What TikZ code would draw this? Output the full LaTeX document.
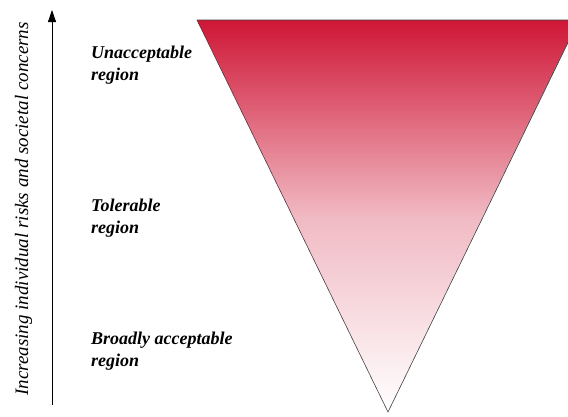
\documentclass[tikz,border=0pt]{standalone}
\usepackage{fontspec}
\setmainfont{Liberation Serif}
\usetikzlibrary{arrows.meta}

\tikzset{
  region/.style={anchor=north west, align=left, inner sep=0pt,
    font=\fontsize{18}{22}\selectfont\bfseries\itshape},
}
\definecolor{riskred}{RGB}{207,22,54}

\begin{document}
\begin{tikzpicture}[x=1pt,y=-1pt]
	\useasboundingbox (0,0) rectangle (568,416);
	\clip (0,0) rectangle (568,416);
	% the inverted triangle, red at the top fading to white
	\shade[top color=riskred, bottom color=white, middle color=riskred!30, draw=black!75, line width=0.6pt]
		(197,20) -- (579,20) -- (388,412) -- cycle;
	% axis with its label
	\coordinate (base) at (52,405);
	\coordinate (tip) at (52,10);
	\draw[line width=0.8pt, -{Triangle[length=12pt,width=8pt]}] (base) -- (tip);
	\node[rotate=90, anchor=base, inner sep=0pt, font=\fontsize{19}{22}\selectfont\itshape] (axislabel) at (28,209)
		{Increasing individual risks and societal concerns};
	% region labels
	\node[region] (unacc) at (91,46) {Unacceptable\\region};
	\node[region] (toler) at (91,199) {Tolerable\\region};
	\node[region] (broad) at (91,332) {Broadly acceptable\\region};
\end{tikzpicture}
\end{document}
